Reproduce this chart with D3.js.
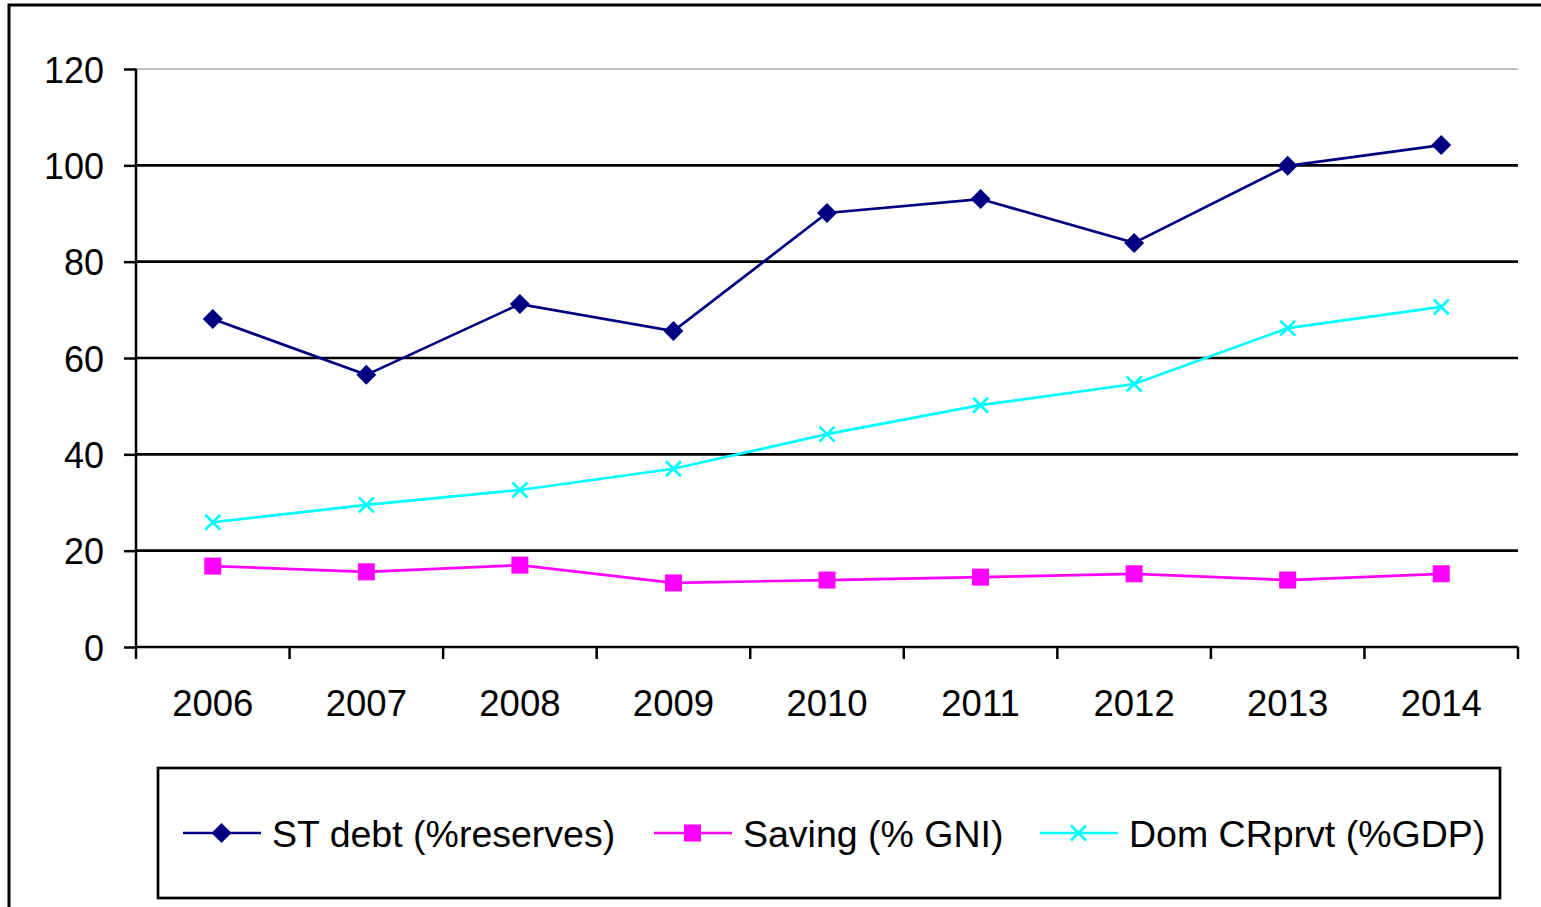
<!DOCTYPE html>
<html><head><meta charset="utf-8">
<script src="https://cdn.jsdelivr.net/npm/d3@7"></script>
<style>html,body{margin:0;padding:0;background:#fff;overflow:hidden}</style>
</head><body>
<svg id="c" width="1541" height="907"></svg>
<script>
const years = ["2006","2007","2008","2009","2010","2011","2012","2013","2014"];
const stDebt = [68.1, 56.5, 71.2, 65.6, 90.1, 93.0, 83.9, 99.9, 104.2];
const saving = [16.8, 15.6, 17.0, 13.3, 13.9, 14.5, 15.2, 13.9, 15.2];
const domCr = [25.9, 29.5, 32.6, 37.0, 44.2, 50.2, 54.6, 66.2, 70.6];
const yTicks = [0, 20, 40, 60, 80, 100, 120];
const seriesNames = ["ST debt (%reserves)", "Saving (% GNI)", "Dom CRprvt (%GDP)"];

const svg = d3.select("#c");
const font = "'Liberation Sans', Arial, sans-serif";
const L = 136, R = 1518, T = 69, B = 647;

svg.append("rect").attr("x", 9).attr("y", 5).attr("width", 1560).attr("height", 940)
  .attr("fill", "#fff").attr("stroke", "#000").attr("stroke-width", 3);

const x = d3.scaleBand().domain(years).range([L, R]).padding(0);
const y = d3.scaleLinear().domain([0, 120]).range([B, T]);

// gridlines
svg.append("g").selectAll("line").data(yTicks.filter(d => d > 0)).join("line")
  .attr("x1", L).attr("x2", R).attr("y1", d => y(d)).attr("y2", d => y(d))
  .attr("stroke", d => d === 120 ? "#c0c0c0" : "#000").attr("stroke-width", d => d === 120 ? 2 : 2.7);

// y axis
const ya = svg.append("g").attr("transform", `translate(${L},0)`)
  .call(d3.axisLeft(y).tickValues(yTicks).tickSize(12).tickPadding(20));
ya.select(".domain").attr("stroke-width", 2.5).attr("d", `M0,${T}V${B}`);
ya.selectAll(".tick line").attr("stroke-width", 2.5);
ya.selectAll("text").attr("font-family", font).attr("font-size", 36).attr("fill", "#000").attr("dy", "0.37em");

// x axis
const xa = svg.append("g").attr("transform", `translate(0,${B})`)
  .call(d3.axisBottom(x).tickSize(0).tickPadding(43));
xa.select(".domain").attr("stroke-width", 2.5).attr("d", `M${L},0H${R}`);
xa.selectAll("text").attr("font-family", font).attr("font-size", 36.5).attr("fill", "#000");
const bounds = years.map(d => x(d)).concat([R]);
xa.append("g").selectAll("line").data(bounds).join("line")
  .attr("x1", d => d).attr("x2", d => d).attr("y1", 0).attr("y2", 12)
  .attr("stroke", "#000").attr("stroke-width", 2.5);

const cx = d => x(d) + x.bandwidth() / 2;
const series = [
  {name: seriesNames[0], vals: stDebt, color: "#000080", marker: "diamond"},
  {name: seriesNames[1], vals: saving, color: "#FF00FF", marker: "square"},
  {name: seriesNames[2], vals: domCr, color: "#00FFFF", marker: "x"}
];

function drawMarker(g, type, color) {
  if (type === "diamond") {
    g.append("path").attr("d", "M0,-10L10,0L0,10L-10,0Z").attr("fill", color);
  } else if (type === "square") {
    g.append("rect").attr("x", -8.5).attr("y", -8.5).attr("width", 17).attr("height", 17).attr("fill", color);
  } else {
    g.append("path").attr("d", "M-7.5,-7.5L7.5,7.5M-7.5,7.5L7.5,-7.5").attr("stroke", color).attr("stroke-width", 2.7).attr("fill", "none");
  }
}

const line = d3.line().x(d => cx(d.year)).y(d => y(d.v));
series.forEach(s => {
  const pts = years.map((yr, i) => ({year: yr, v: s.vals[i]}));
  svg.append("path").datum(pts).attr("d", line).attr("fill", "none")
    .attr("stroke", s.color).attr("stroke-width", 2.7);
  svg.append("g").selectAll("g").data(pts).join("g")
    .attr("transform", d => `translate(${cx(d.year)},${y(d.v)})`)
    .each(function() { drawMarker(d3.select(this), s.marker, s.color); });
});

// legend
svg.append("rect").attr("x", 158).attr("y", 768).attr("width", 1342).attr("height", 130)
  .attr("fill", "#fff").attr("stroke", "#000").attr("stroke-width", 2.7);
const legX = [183, 654, 1040];
series.forEach((s, i) => {
  const g = svg.append("g").attr("transform", `translate(${legX[i]},833)`);
  g.append("line").attr("x1", 0).attr("x2", 78).attr("stroke", s.color).attr("stroke-width", 2.7);
  const m = g.append("g").attr("transform", "translate(38.5,0)");
  drawMarker(m, s.marker, s.color);
  g.append("text").attr("x", 89).attr("dy", "0.36em").attr("font-family", font)
    .attr("font-size", 37.5).attr("fill", "#000").text(s.name);
});
</script>
</body></html>
